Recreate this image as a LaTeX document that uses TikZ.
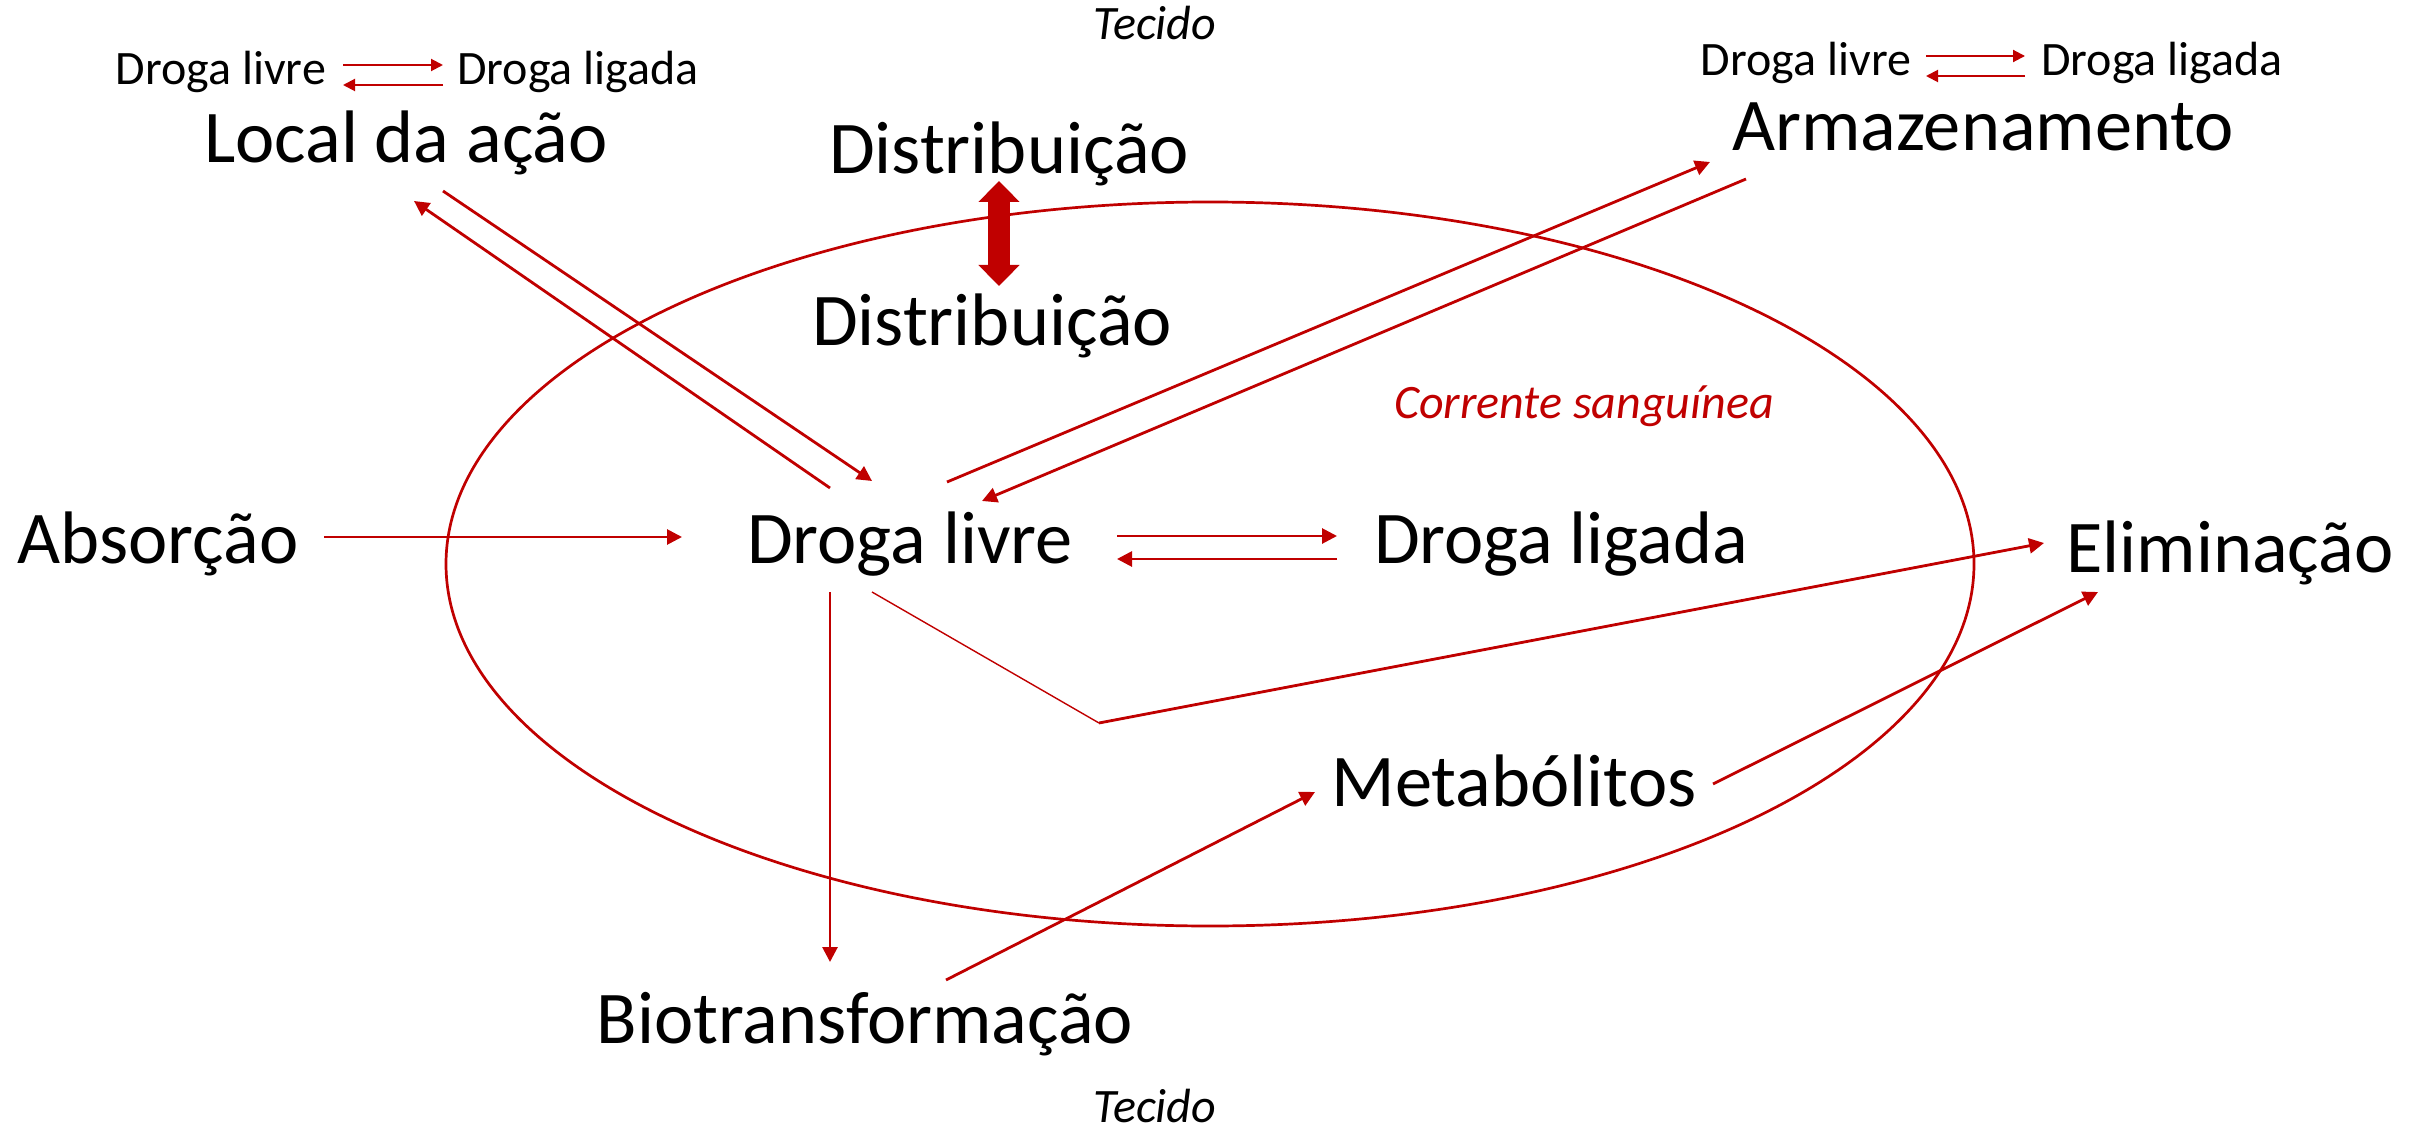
\documentclass[tikz,border=0pt]{standalone}
\usepackage{fontspec}
\setmainfont{Carlito}
\usetikzlibrary{arrows.meta}
\definecolor{bloodred}{HTML}{C00000}

\begin{document}
\begin{tikzpicture}[x=0.5pt,y=0.5pt,yscale=-1,xscale=1,
  big/.style={anchor=base,inner sep=0pt,font=\fontsize{37.2}{41}\selectfont},
  small/.style={anchor=base,inner sep=0pt,font=\fontsize{24}{27}\selectfont},
  smallit/.style={small,font=\fontsize{24}{27}\selectfont\itshape},
  flow/.style={draw=bloodred,line width=1.4pt,-{Triangle[length=7.5pt,width=7.5pt]}},
  minorflow/.style={draw=bloodred,line width=1pt,-{Triangle[length=6pt,width=6pt]}}]
\useasboundingbox (0,0) rectangle (2420,1134);

%Shape: Ellipse (blood stream)
\draw [bloodred,line width=1.35pt] (1210,564) ellipse [x radius=764,y radius=362];

% Text Nodes
\node [smallit] (tecidoTop) at (1155,40) {Tecido};
\node [small] (tlFree) at (221,85) {Droga livre};
\node [small] (tlBound) at (578,85) {Droga ligada};
\node [big] (local) at (406,163) {Local da ação};
\node [big] (distTop) at (1009,174) {Distribuição};
\node [big] (distIn) at (992,345) {Distribuição};
\node [small] (trFree) at (1806,76) {Droga livre};
\node [small] (trBound) at (2162,76) {Droga ligada};
\node [big] (armaz) at (1983,151) {Armazenamento};
\node [smallit,text=bloodred] (corrente) at (1584,418) {Corrente sanguínea};
\node [big] (absorcao) at (158,563) {Absorção};
\node [big] (dlivre) at (910,563) {Droga livre};
\node [big] (dligada) at (1561,563) {Droga ligada};
\node [big] (elim) at (2230,572) {Eliminação};
\node [big] (metab) at (1514,806) {Metabólitos};
\node [big] (biotrans) at (865,1043) {Biotransformação};
\node [smallit] (tecidoBot) at (1155,1122) {Tecido};

% Connector ends
\coordinate (tlA) at (343,65);  \coordinate (tlB) at (443,65);
\coordinate (tlC) at (443,85);  \coordinate (tlD) at (343,85);
\coordinate (trA) at (1926,56); \coordinate (trB) at (2025,56);
\coordinate (trC) at (2025,76); \coordinate (trD) at (1926,76);
\coordinate (distA) at (999,181); \coordinate (distB) at (999,286);
\coordinate (absOut) at (324,537); \coordinate (dlIn) at (682,537);
\coordinate (dlR1) at (1117,536); \coordinate (ligL1) at (1337,536);
\coordinate (ligL2) at (1337,559); \coordinate (dlR2) at (1117,559);
\coordinate (localOut) at (443,191); \coordinate (dlTop1) at (872,481);
\coordinate (dlTop2) at (830,488); \coordinate (localIn) at (414,201);
\coordinate (dlTop3) at (947,482); \coordinate (armazIn) at (1710,162);
\coordinate (armazOut) at (1746,179); \coordinate (dlTop4) at (982,501);
\coordinate (dlBot1) at (830,592); \coordinate (bioIn) at (830,962);
\coordinate (dlBot2) at (872,592); \coordinate (bend) at (1099,723);
\coordinate (elimIn1) at (2044,543);
\coordinate (bioOut) at (946,980); \coordinate (metabIn) at (1315,792);
\coordinate (metabOut) at (1713,784); \coordinate (elimIn2) at (2098,592);

%Straight Lines
\draw [minorflow] (tlA) -- (tlB);
\draw [minorflow] (tlC) -- (tlD);
\draw [minorflow] (trA) -- (trB);
\draw [minorflow] (trC) -- (trD);
\draw [bloodred,line width=11pt,{Triangle[length=10.5pt,width=20pt]}-{Triangle[length=10.5pt,width=20pt]}] (distA) -- (distB);
\draw [flow] (absOut) -- (dlIn);
\draw [flow] (dlR1) -- (ligL1);
\draw [flow] (ligL2) -- (dlR2);
\draw [flow] (localOut) -- (dlTop1);
\draw [flow] (dlTop2) -- (localIn);
\draw [flow] (dlTop3) -- (armazIn);
\draw [flow] (armazOut) -- (dlTop4);
\draw [flow] (dlBot1) -- (bioIn);
\draw [bloodred,line width=0.7pt] (dlBot2) -- (bend);
\draw [flow] (bend) -- (elimIn1);
\draw [flow] (bioOut) -- (metabIn);
\draw [flow] (metabOut) -- (elimIn2);

\end{tikzpicture}
\end{document}
